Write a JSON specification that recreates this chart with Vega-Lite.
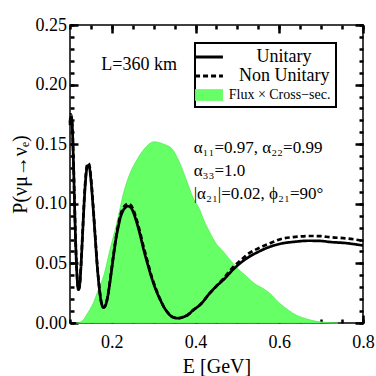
{
  "$schema": "https://vega.github.io/schema/vega-lite/v6.json",
  "width": 293,
  "height": 298,
  "autosize": {"type": "none"},
  "padding": {"left": 70, "top": 25, "right": 13, "bottom": 53},
  "background": "white",
  "config": {
    "view": {"stroke": "black", "strokeWidth": 1.5},
    "font": "Liberation Serif",
    "axis": {
      "domain": false, "grid": false, "ticks": true, "tickColor": "black", "tickWidth": 2.5,
      "labelFont": "Liberation Serif", "labelFontSize": 18, "labelColor": "black",
      "titleFont": "Liberation Serif", "titleFontSize": 20, "titleFontWeight": "normal", "titleColor": "black",
      "labelFlush": false, "labelOverlap": false
    },
    "legend": {
      "orient": "none", "legendX": 125, "legendY": 18,
      "title": null, "padding": 5,
      "strokeColor": "black", "fillColor": "white",
      "labelFont": "Liberation Serif", "labelFontSize": 14, "labelColor": "black",
      "labelAlign": "left", "labelOffset": 12.7,
      "symbolSize": 324, "symbolStrokeWidth": 2.8, "rowPadding": 1, "symbolType": "stroke"
    }
  },
  "datasets": {
    "prob": [
      {"E": 0.100, "Unitary": 0.166, "Non Unitary": 0.168},
      {"E": 0.102, "Unitary": 0.173, "Non Unitary": 0.175},
      {"E": 0.105, "Unitary": 0.167, "Non Unitary": 0.169},
      {"E": 0.108, "Unitary": 0.138, "Non Unitary": 0.140},
      {"E": 0.111, "Unitary": 0.098, "Non Unitary": 0.100},
      {"E": 0.114, "Unitary": 0.062, "Non Unitary": 0.063},
      {"E": 0.117, "Unitary": 0.038, "Non Unitary": 0.039},
      {"E": 0.120, "Unitary": 0.028, "Non Unitary": 0.028},
      {"E": 0.123, "Unitary": 0.031, "Non Unitary": 0.031},
      {"E": 0.126, "Unitary": 0.046, "Non Unitary": 0.047},
      {"E": 0.130, "Unitary": 0.074, "Non Unitary": 0.075},
      {"E": 0.134, "Unitary": 0.102, "Non Unitary": 0.104},
      {"E": 0.138, "Unitary": 0.123, "Non Unitary": 0.125},
      {"E": 0.142, "Unitary": 0.132, "Non Unitary": 0.134},
      {"E": 0.146, "Unitary": 0.131, "Non Unitary": 0.133},
      {"E": 0.150, "Unitary": 0.120, "Non Unitary": 0.122},
      {"E": 0.155, "Unitary": 0.098, "Non Unitary": 0.100},
      {"E": 0.160, "Unitary": 0.073, "Non Unitary": 0.074},
      {"E": 0.165, "Unitary": 0.048, "Non Unitary": 0.049},
      {"E": 0.170, "Unitary": 0.029, "Non Unitary": 0.030},
      {"E": 0.175, "Unitary": 0.017, "Non Unitary": 0.017},
      {"E": 0.180, "Unitary": 0.013, "Non Unitary": 0.013},
      {"E": 0.185, "Unitary": 0.015, "Non Unitary": 0.015},
      {"E": 0.190, "Unitary": 0.022, "Non Unitary": 0.022},
      {"E": 0.195, "Unitary": 0.033, "Non Unitary": 0.034},
      {"E": 0.200, "Unitary": 0.046, "Non Unitary": 0.047},
      {"E": 0.205, "Unitary": 0.059, "Non Unitary": 0.060},
      {"E": 0.210, "Unitary": 0.071, "Non Unitary": 0.072},
      {"E": 0.215, "Unitary": 0.080, "Non Unitary": 0.082},
      {"E": 0.220, "Unitary": 0.088, "Non Unitary": 0.090},
      {"E": 0.225, "Unitary": 0.093, "Non Unitary": 0.095},
      {"E": 0.230, "Unitary": 0.096, "Non Unitary": 0.098},
      {"E": 0.238, "Unitary": 0.098, "Non Unitary": 0.100},
      {"E": 0.245, "Unitary": 0.097, "Non Unitary": 0.099},
      {"E": 0.250, "Unitary": 0.094, "Non Unitary": 0.096},
      {"E": 0.258, "Unitary": 0.086, "Non Unitary": 0.088},
      {"E": 0.266, "Unitary": 0.076, "Non Unitary": 0.078},
      {"E": 0.275, "Unitary": 0.063, "Non Unitary": 0.065},
      {"E": 0.285, "Unitary": 0.050, "Non Unitary": 0.052},
      {"E": 0.295, "Unitary": 0.038, "Non Unitary": 0.039},
      {"E": 0.305, "Unitary": 0.028, "Non Unitary": 0.029},
      {"E": 0.315, "Unitary": 0.020, "Non Unitary": 0.020},
      {"E": 0.325, "Unitary": 0.013, "Non Unitary": 0.013},
      {"E": 0.335, "Unitary": 0.008, "Non Unitary": 0.008},
      {"E": 0.345, "Unitary": 0.005, "Non Unitary": 0.005},
      {"E": 0.358, "Unitary": 0.004, "Non Unitary": 0.004},
      {"E": 0.370, "Unitary": 0.005, "Non Unitary": 0.005},
      {"E": 0.380, "Unitary": 0.0065, "Non Unitary": 0.0065},
      {"E": 0.395, "Unitary": 0.011, "Non Unitary": 0.011},
      {"E": 0.410, "Unitary": 0.015, "Non Unitary": 0.015},
      {"E": 0.434, "Unitary": 0.025, "Non Unitary": 0.025},
      {"E": 0.450, "Unitary": 0.031, "Non Unitary": 0.031},
      {"E": 0.466, "Unitary": 0.036, "Non Unitary": 0.037},
      {"E": 0.490, "Unitary": 0.045, "Non Unitary": 0.047},
      {"E": 0.506, "Unitary": 0.050, "Non Unitary": 0.052},
      {"E": 0.530, "Unitary": 0.056, "Non Unitary": 0.059},
      {"E": 0.546, "Unitary": 0.059, "Non Unitary": 0.062},
      {"E": 0.578, "Unitary": 0.064, "Non Unitary": 0.067},
      {"E": 0.610, "Unitary": 0.067, "Non Unitary": 0.071},
      {"E": 0.633, "Unitary": 0.068, "Non Unitary": 0.072},
      {"E": 0.670, "Unitary": 0.069, "Non Unitary": 0.073},
      {"E": 0.700, "Unitary": 0.0688, "Non Unitary": 0.0728},
      {"E": 0.720, "Unitary": 0.068, "Non Unitary": 0.072},
      {"E": 0.760, "Unitary": 0.067, "Non Unitary": 0.071},
      {"E": 0.800, "Unitary": 0.065, "Non Unitary": 0.069}
    ],
    "flux": [
      {"E": 0.115, "F": 0.0},
      {"E": 0.124, "F": 0.0005},
      {"E": 0.130, "F": 0.002},
      {"E": 0.140, "F": 0.007},
      {"E": 0.156, "F": 0.017},
      {"E": 0.170, "F": 0.030},
      {"E": 0.180, "F": 0.039},
      {"E": 0.196, "F": 0.062},
      {"E": 0.212, "F": 0.084},
      {"E": 0.228, "F": 0.109},
      {"E": 0.244, "F": 0.126},
      {"E": 0.260, "F": 0.137},
      {"E": 0.280, "F": 0.147},
      {"E": 0.300, "F": 0.152},
      {"E": 0.312, "F": 0.1515},
      {"E": 0.324, "F": 0.150},
      {"E": 0.344, "F": 0.146},
      {"E": 0.360, "F": 0.136},
      {"E": 0.378, "F": 0.120},
      {"E": 0.394, "F": 0.105},
      {"E": 0.410, "F": 0.095},
      {"E": 0.420, "F": 0.086},
      {"E": 0.434, "F": 0.076},
      {"E": 0.450, "F": 0.066},
      {"E": 0.466, "F": 0.060},
      {"E": 0.482, "F": 0.053},
      {"E": 0.497, "F": 0.047},
      {"E": 0.522, "F": 0.039},
      {"E": 0.545, "F": 0.032},
      {"E": 0.561, "F": 0.029},
      {"E": 0.577, "F": 0.025},
      {"E": 0.601, "F": 0.0165},
      {"E": 0.621, "F": 0.011},
      {"E": 0.641, "F": 0.0065},
      {"E": 0.660, "F": 0.004},
      {"E": 0.680, "F": 0.002},
      {"E": 0.700, "F": 0.0008},
      {"E": 0.720, "F": 0.0002},
      {"E": 0.740, "F": 0.0}
    ]
  },
  "resolve": {"axis": {"x": "independent", "y": "independent"}},
  "layer": [
    {
      "data": {"name": "flux"},
      "mark": {"type": "area", "interpolate": "monotone", "fill": "#66ff66", "stroke": "#55ee55", "strokeWidth": 0.8},
      "encoding": {
        "x": {
          "field": "E", "type": "quantitative",
          "scale": {"domain": [0.1, 0.8], "nice": false, "zero": false},
          "axis": {
            "orient": "bottom", "values": [0.2, 0.4, 0.6, 0.8], "format": ".1f",
            "offset": -8, "tickSize": 8, "labelPadding": 10,
            "title": "E [GeV]",
            "titleX": 146.5, "titleY": 51, "titleBaseline": "middle", "titleAlign": "center"
          }
        },
        "y": {
          "field": "F", "type": "quantitative",
          "scale": {"domain": [0, 0.25], "nice": false, "zero": false},
          "axis": {
            "orient": "left", "values": [0, 0.05, 0.1, 0.15, 0.2, 0.25], "format": ".2f",
            "offset": -8, "tickSize": 8, "labelPadding": 3.5,
            "title": "P(νμ→νₑ)",
            "titleX": -58, "titleY": 149, "titleAngle": -90, "titleBaseline": "middle", "titleAlign": "center"
          }
        },
        "color": {
          "datum": "Flux × Cross−sec.", "type": "nominal",
          "scale": {"domain": ["Unitary", "Non Unitary", "Flux × Cross−sec."], "range": ["black", "black", "#66ff66"]},
          "legend": {
            "title": null,
            "encode": {
              "legend": {"update": {"strokeWidth": {"value": 2}}},
              "symbols": {"update": {
                "shape": {"signal": "datum.value === 'Flux × Cross−sec.' ? 'M-1.55,-0.65H1.55V0.65H-1.55Z' : 'M-1.55,0H1.55'"},
                "fill": {"signal": "datum.value === 'Flux × Cross−sec.' ? '#66ff66' : 'transparent'"},
                "stroke": {"signal": "datum.value === 'Flux × Cross−sec.' ? null : 'black'"},
                "strokeWidth": {"signal": "datum.value === 'Flux × Cross−sec.' ? 0 : 2.8"},
                "strokeDash": {"signal": "datum.value === 'Non Unitary' ? [5, 3] : [1, 0]"},
                "size": {"value": 324},
                "opacity": {"value": 1}
              }},
              "labels": {"update": {
                "fontSize": {"signal": "datum.value === 'Flux × Cross−sec.' ? 14 : 18"},
                "dx": {"signal": "datum.value === 'Unitary' ? 25.8 : datum.value === 'Non Unitary' ? 8.3 : -2"}
              }}
            }
          }
        }
      }
    },
    {
      "data": {"name": "prob"},
      "transform": [{"fold": ["Unitary", "Non Unitary"], "as": ["series", "P"]}],
      "mark": {"type": "line", "interpolate": "monotone", "strokeWidth": 2.7},
      "encoding": {
        "x": {
          "field": "E", "type": "quantitative",
          "axis": {"orient": "top", "values": [0.2, 0.4, 0.6, 0.8], "labels": false, "title": null, "offset": -8, "tickSize": 8}
        },
        "y": {
          "field": "P", "type": "quantitative",
          "axis": {"orient": "right", "values": [0, 0.05, 0.1, 0.15, 0.2, 0.25], "labels": false, "title": null, "offset": -8, "tickSize": 8}
        },
        "color": {
          "field": "series", "type": "nominal",
          "legend": {
            "title": null,
            "encode": {
              "legend": {"update": {"strokeWidth": {"value": 2}}},
              "symbols": {"update": {
                "shape": {"signal": "datum.value === 'Flux × Cross−sec.' ? 'M-1.55,-0.65H1.55V0.65H-1.55Z' : 'M-1.55,0H1.55'"},
                "fill": {"signal": "datum.value === 'Flux × Cross−sec.' ? '#66ff66' : 'transparent'"},
                "stroke": {"signal": "datum.value === 'Flux × Cross−sec.' ? null : 'black'"},
                "strokeWidth": {"signal": "datum.value === 'Flux × Cross−sec.' ? 0 : 2.8"},
                "strokeDash": {"signal": "datum.value === 'Non Unitary' ? [5, 3] : [1, 0]"},
                "size": {"value": 324},
                "opacity": {"value": 1}
              }},
              "labels": {"update": {
                "fontSize": {"signal": "datum.value === 'Flux × Cross−sec.' ? 14 : 18"},
                "dx": {"signal": "datum.value === 'Unitary' ? 25.8 : datum.value === 'Non Unitary' ? 8.3 : -2"}
              }}
            }
          }
        },
        "strokeDash": {"field": "series", "type": "nominal", "scale": {"domain": ["Unitary", "Non Unitary"], "range": [[1, 0], [5, 3]]}, "legend": null}
      }
    },
    {
      "data": {"values": [{}]},
      "mark": {"type": "text", "align": "left", "baseline": "middle", "font": "Liberation Serif", "fontSize": 18, "color": "black"},
      "encoding": {
        "x": {
          "datum": 0.1747, "type": "quantitative",
          "axis": {"orient": "bottom", "values": [0.1, 0.15, 0.2, 0.25, 0.3, 0.35, 0.4, 0.45, 0.5, 0.55, 0.6, 0.65, 0.7, 0.75, 0.8], "labels": false, "title": null, "offset": -4, "tickSize": 4}
        },
        "y": {
          "datum": 0.2164, "type": "quantitative",
          "axis": {"orient": "left", "values": [0, 0.01, 0.02, 0.03, 0.04, 0.05, 0.06, 0.07, 0.08, 0.09, 0.1, 0.11, 0.12, 0.13, 0.14, 0.15, 0.16, 0.17, 0.18, 0.19, 0.2, 0.21, 0.22, 0.23, 0.24, 0.25], "labels": false, "title": null, "offset": -4, "tickSize": 4}
        },
        "text": {"value": "L=360 km"}
      }
    },
    {
      "data": {"values": [{}]},
      "mark": {"type": "text", "align": "left", "baseline": "middle", "font": "Liberation Serif", "fontSize": 17, "color": "black", "lineHeight": 23},
      "encoding": {
        "x": {
          "datum": 0.3955, "type": "quantitative",
          "axis": {"orient": "top", "values": [0.1, 0.15, 0.2, 0.25, 0.3, 0.35, 0.4, 0.45, 0.5, 0.55, 0.6, 0.65, 0.7, 0.75, 0.8], "labels": false, "title": null, "offset": -4, "tickSize": 4}
        },
        "y": {
          "datum": 0.147, "type": "quantitative",
          "axis": {"orient": "right", "values": [0, 0.01, 0.02, 0.03, 0.04, 0.05, 0.06, 0.07, 0.08, 0.09, 0.1, 0.11, 0.12, 0.13, 0.14, 0.15, 0.16, 0.17, 0.18, 0.19, 0.2, 0.21, 0.22, 0.23, 0.24, 0.25], "labels": false, "title": null, "offset": -4, "tickSize": 4}
        },
        "text": {"value": ["α₁₁=0.97, α₂₂=0.99", "α₃₃=1.0", "|α₂₁|=0.02, ϕ₂₁=90°"]}
      }
    }
  ]
}
